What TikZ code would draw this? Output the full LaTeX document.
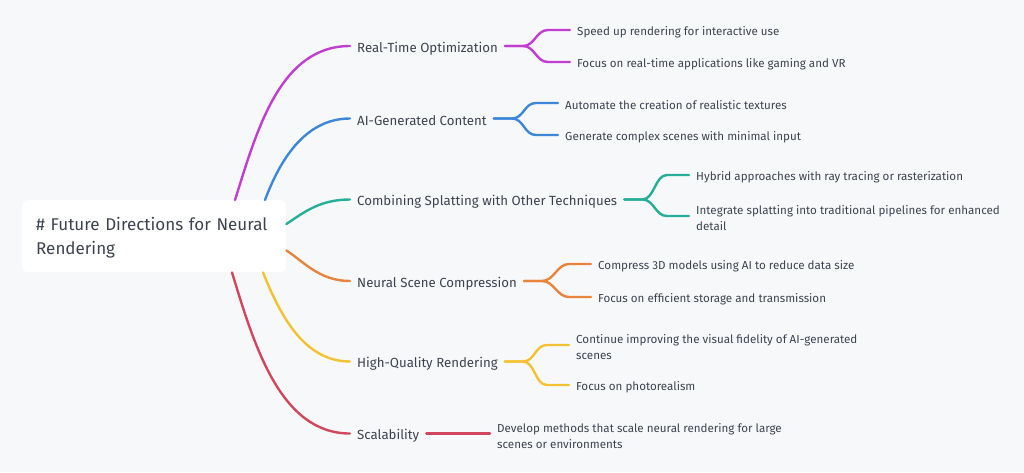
\documentclass[tikz,border=0pt]{standalone}
\usepackage{fontspec}
\setmainfont{Fira Sans}
\begin{document}
\begin{tikzpicture}[x=1pt, y=-1pt,
    root/.style={fill=white, rounded corners=5pt, anchor=north west, minimum width=264pt, minimum height=72pt,
      inner xsep=14pt, text width=236pt, text height=16pt, align=left, text=ink, font=\fontsize{17}{24}\selectfont},
    branch/.style={anchor=west, inner sep=0pt, yshift=-2.5pt, text=ink, font=\fontsize{13.25}{16}\selectfont},
    leaf/.style={anchor=west, inner sep=0pt, yshift=-2.5pt, align=left, text=ink, font=\fontsize{11.6}{16}\selectfont},
    link/.style={line width=2.4pt, line cap=round}]
    % Cores dos ramos
    \definecolor{ink}{HTML}{3E4350}
    \definecolor{bg}{HTML}{F7F8FA}
    \definecolor{c-rto}{HTML}{C03ED2}
    \definecolor{c-agc}{HTML}{3D87DA}
    \definecolor{c-cst}{HTML}{25AE98}
    \definecolor{c-nsc}{HTML}{E8843C}
    \definecolor{c-hqr}{HTML}{F3C232}
    \definecolor{c-scl}{HTML}{D2475D}

    % Fundo
    \fill[bg] (0,0) rectangle (1024,472);
    \useasboundingbox (0,0) rectangle (1024,472);

    % Nó central
    \node[root] (root) at (22,200) {\# Future Directions for Neural\\Rendering};

    % Ramos principais: {nome/y/texto}
    \foreach \nm/\ly/\txt in {rto/46/{Real-Time Optimization}, agc/118.5/{AI-Generated Content},
        cst/199.5/{Combining Splatting with Other Techniques}, nsc/281/{Neural Scene Compression},
        hqr/361.5/{High-Quality Rendering}, scl/433.5/{Scalability}} {
        \node[branch] (\nm) at (357,\ly) {\txt};
    }

    % Curvas do nó central até cada ramo
    \draw[link, c-rto] ([xshift=213pt]root.north west) .. controls +(22,-70) and +(-70,0) .. ([xshift=-7pt, yshift=2.5pt]rto.west);
    \draw[link, c-agc] ([xshift=243pt]root.north west) .. controls +(15,-40) and +(-45,0) .. ([xshift=-7pt, yshift=2.5pt]agc.west);
    \draw[link, c-cst] ([yshift=-24pt]root.north east) .. controls +(18,-12) and +(-30,0) .. ([xshift=-7pt, yshift=2.5pt]cst.west);
    \draw[link, c-nsc] ([yshift=22pt]root.south east) .. controls +(18,12) and +(-30,0) .. ([xshift=-7pt, yshift=2.5pt]nsc.west);
    \draw[link, c-hqr] ([xshift=241pt]root.south west) .. controls +(18,45) and +(-45,0) .. ([xshift=-7pt, yshift=2.5pt]hqr.west);
    \draw[link, c-scl] ([xshift=210pt]root.south west) .. controls +(22,72) and +(-70,0) .. ([xshift=-7pt, yshift=2.5pt]scl.west);

    % Folhas: {ramo/nome/x/y/texto}
    \foreach \pa/\nm/\lx/\ly/\txt in {
        rto/rto1/577/30/{Speed up rendering for interactive use},
        rto/rto2/577/62/{Focus on real-time applications like gaming and VR},
        agc/agc1/565/103/{Automate the creation of realistic textures},
        agc/agc2/565/135/{Generate complex scenes with minimal input},
        cst/cst1/696/175/{Hybrid approaches with ray tracing or rasterization},
        cst/cst2/696/216/{Integrate splatting into traditional pipelines for enhanced\\detail},
        nsc/nsc1/598/264/{Compress 3D models using AI to reduce data size},
        nsc/nsc2/598/297/{Focus on efficient storage and transmission},
        hqr/hqr1/576/345/{Continue improving the visual fidelity of AI-generated\\scenes},
        hqr/hqr2/576/385/{Focus on photorealism},
        scl/scl1/497/433.5/{Develop methods that scale neural rendering for large\\scenes or environments}} {

        \node[leaf] (\nm) at (\lx,\ly) {\txt};

        % Haste e bifurcação
        \draw[link, c-\pa] ([xshift=7pt, yshift=2.5pt]\pa.east) -- ([xshift=25pt, yshift=2.5pt]\pa.east)
            .. controls +(12,0) and +(-12,0) .. ([xshift=-29pt, yshift=2.5pt]\nm.west) -- ([xshift=-7pt, yshift=2.5pt]\nm.west);
    }
\end{tikzpicture}
\end{document}
